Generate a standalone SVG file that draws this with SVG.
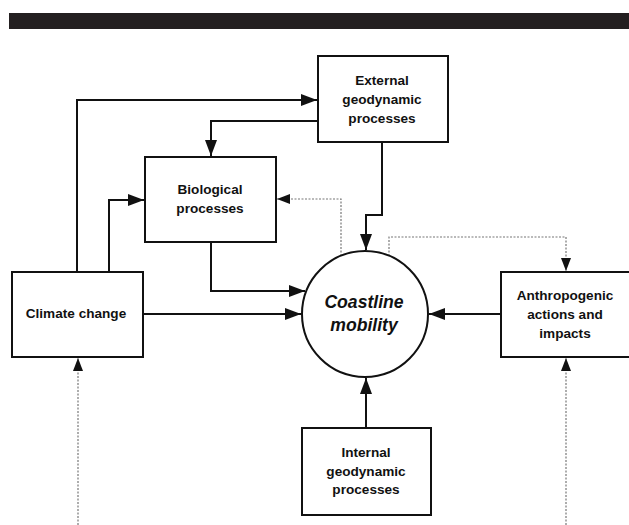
<svg xmlns="http://www.w3.org/2000/svg" width="629" height="525" viewBox="0 0 629 525">
<style>
.box{fill:#fff;stroke:#111;stroke-width:2}
.lbl{font-family:"Liberation Sans",Arial,sans-serif;font-weight:bold;font-size:13.6px;fill:#111;text-anchor:middle}
.big{font-size:17.6px;font-style:italic}
.c{fill:none;stroke:#111;stroke-width:2}
.d{fill:none;stroke:#777;stroke-width:1.2;stroke-dasharray:2,1.5}
</style>
<defs>
<marker id="a" markerUnits="userSpaceOnUse" markerWidth="17" markerHeight="13" refX="16" refY="6" orient="auto">
<path d="M0,0 L16,6 L0,12 z" fill="#111"/>
</marker>
<marker id="b" markerUnits="userSpaceOnUse" markerWidth="14" markerHeight="12" refX="13" refY="5" orient="auto">
<path d="M0,0 L13,5 L0,10 z" fill="#111"/>
</marker>
</defs>
<rect x="0" y="0" width="629" height="525" fill="#fff"/>
<rect id="topbar" x="9" y="13" width="620" height="16" fill="#231f20"/>
<g id="connectors">
<path class="c" d="M77,272 V100 H317" marker-end="url(#a)"/>
<path class="c" d="M109,272 V200 H144" marker-end="url(#a)"/>
<path class="c" d="M318,121 H211 V156" marker-end="url(#a)"/>
<path class="c" d="M382,142 V215 H366 V250" marker-end="url(#a)"/>
<path class="c" d="M211,242 V291 H305" marker-end="url(#a)"/>
<path class="c" d="M143,314 H301" marker-end="url(#a)"/>
<path class="c" d="M501,314 H429" marker-end="url(#a)"/>
<path class="c" d="M366,428 V378" marker-end="url(#a)"/>
<path class="d" d="M341,256 V199 H277" marker-end="url(#b)"/>
<path class="d" d="M389,256 V237 H566 V271" marker-end="url(#b)"/>
<path class="d" d="M78,525 V358" marker-end="url(#b)"/>
<path class="d" d="M566,525 V358" marker-end="url(#b)"/>
</g>
<g id="external">
<rect class="box" x="318" y="56" width="130" height="86"/>
<text class="lbl" x="382" y="85">External</text>
<text class="lbl" x="382" y="104">geodynamic</text>
<text class="lbl" x="382" y="123">processes</text>
</g>
<g id="biological">
<rect class="box" x="145" y="157" width="131" height="85"/>
<text class="lbl" x="210" y="194">Biological</text>
<text class="lbl" x="210" y="213">processes</text>
</g>
<g id="climate">
<rect class="box" x="12" y="272" width="131" height="85"/>
<text class="lbl" x="76" y="318">Climate change</text>
</g>
<g id="coastline">
<circle cx="365" cy="314" r="63" fill="#fff" stroke="#111" stroke-width="2"/>
<text class="lbl big" x="364" y="308">Coastline</text>
<text class="lbl big" x="364" y="331">mobility</text>
</g>
<g id="anthropogenic">
<rect class="box" x="501" y="272" width="130" height="85"/>
<text class="lbl" x="565" y="300">Anthropogenic</text>
<text class="lbl" x="565" y="319">actions and</text>
<text class="lbl" x="565" y="338">impacts</text>
</g>
<g id="internal">
<rect class="box" x="302" y="428" width="129" height="87"/>
<text class="lbl" x="366" y="457">Internal</text>
<text class="lbl" x="366" y="476">geodynamic</text>
<text class="lbl" x="366" y="494">processes</text>
</g>
</svg>
